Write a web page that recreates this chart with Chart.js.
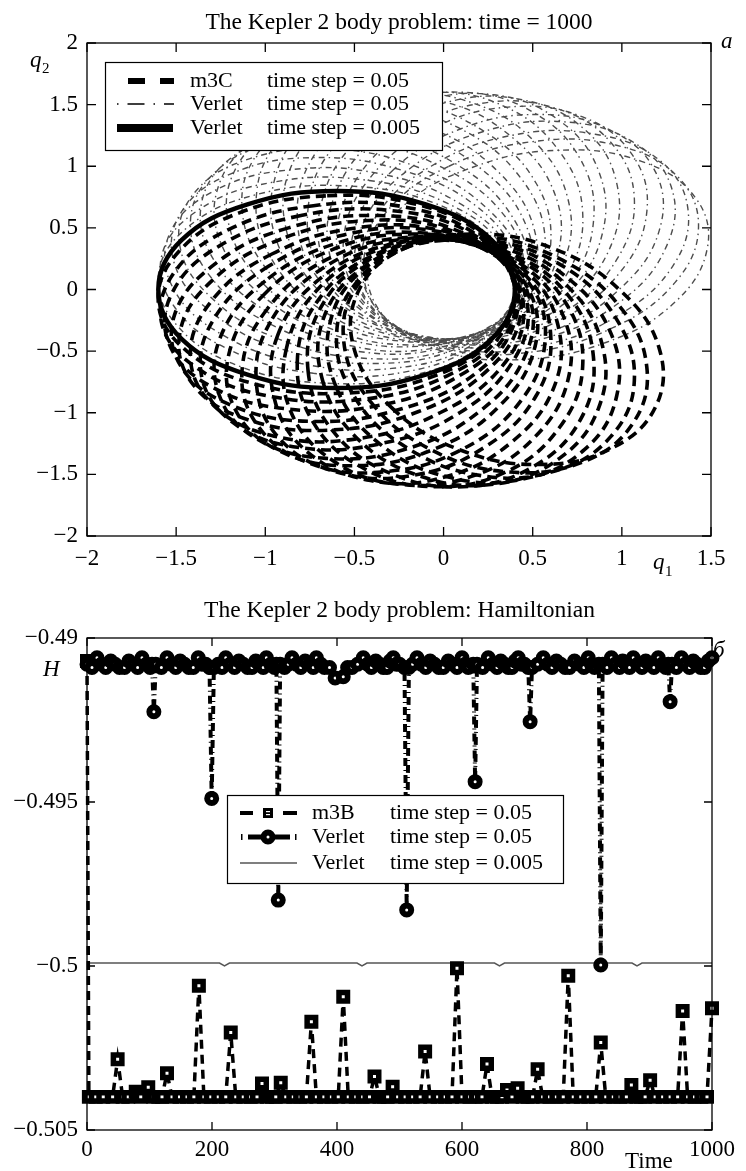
<!DOCTYPE html>
<html>
<head>
<meta charset="utf-8">
<script src="https://cdn.jsdelivr.net/npm/chart.js@4.4.1/dist/chart.umd.min.js"></script>
<style>
  body { margin: 0; background: #fff; }
  .wrap { position: relative; width: 746px; height: 1171px; }
  canvas { position: absolute; left: 0; }
</style>
</head>
<body>
<div class="wrap">
  <canvas id="orbitChart" width="746" height="580" style="top:0"></canvas>
  <canvas id="energyChart" width="746" height="591" style="top:580px"></canvas>
</div>
<script>
// ---------- panel a: trajectories in the (q1, q2) plane ----------
const orbitTitle = "The Kepler 2 body problem: time = 1000";
const q1Ticks = [-2, -1.5, -1, -0.5, 0, 0.5, 1, 1.5];
const q2Ticks = [-2, -1.5, -1, -0.5, 0, 0.5, 1, 1.5, 2];

// reference orbit (Verlet, dt = 0.005)
const exactOrbit = [[0.40,0],[0.27,0.40],[-0.10,0.69],[-0.60,0.80],[-1.10,0.69],[-1.47,0.40],
  [-1.60,0],[-1.47,-0.40],[-1.10,-0.69],[-0.60,-0.80],[-0.10,-0.69],[0.27,-0.40]];

// snapshots of the precessing m3C orbit (dt = 0.05)
const m3cOrbits = [
  [[0.40,0.03],[0.24,0.42],[-0.15,0.69],[-0.66,0.76],[-1.15,0.62],[-1.49,0.30],[-1.60,-0.11],[-1.44,-0.50],[-1.05,-0.77],[-0.54,-0.84],[-0.05,-0.70],[0.29,-0.38]],
  [[0.39,0.07],[0.19,0.44],[-0.22,0.67],[-0.73,0.68],[-1.20,0.49],[-1.51,0.14],[-1.58,-0.28],[-1.37,-0.65],[-0.96,-0.87],[-0.45,-0.89],[0.02,-0.70],[0.33,-0.35]],
  [[0.38,0.11],[0.15,0.46],[-0.29,0.64],[-0.80,0.60],[-1.25,0.36],[-1.52,-0.02],[-1.54,-0.44],[-1.30,-0.79],[-0.87,-0.97],[-0.36,-0.94],[0.10,-0.69],[0.37,-0.31]],
  [[0.37,0.16],[0.09,0.47],[-0.36,0.60],[-0.87,0.50],[-1.28,0.21],[-1.51,-0.21],[-1.47,-0.63],[-1.19,-0.94],[-0.74,-1.07],[-0.24,-0.97],[0.18,-0.68],[0.40,-0.26]],
  [[0.35,0.19],[0.04,0.48],[-0.42,0.56],[-0.91,0.41],[-1.30,0.07],[-1.48,-0.36],[-1.40,-0.78],[-1.09,-1.06],[-0.63,-1.14],[-0.14,-0.99],[0.25,-0.65],[0.43,-0.22]],
  [[0.32,0.24],[-0.02,0.48],[-0.49,0.50],[-0.96,0.29],[-1.30,-0.09],[-1.42,-0.54],[-1.29,-0.94],[-0.95,-1.19],[-0.48,-1.21],[-0.02,-1.00],[0.33,-0.62],[0.45,-0.17]],
  [[0.30,0.27],[-0.07,0.48],[-0.54,0.45],[-0.98,0.19],[-1.28,-0.22],[-1.36,-0.68],[-1.19,-1.07],[-0.82,-1.28],[-0.35,-1.25],[0.09,-1.00],[0.39,-0.58],[0.47,-0.12]],
  [[0.26,0.30],[-0.13,0.46],[-0.59,0.38],[-1.00,0.07],[-1.25,-0.38],[-1.26,-0.85],[-1.05,-1.21],[-0.66,-1.37],[-0.20,-1.29],[0.21,-0.98],[0.46,-0.53],[0.48,-0.06]],
  [[0.23,0.33],[-0.18,0.45],[-0.63,0.32],[-1.00,-0.03],[-1.20,-0.50],[-1.17,-0.97],[-0.92,-1.31],[-0.51,-1.43],[-0.06,-1.30],[0.31,-0.95],[0.51,-0.48],[0.48,-0.01]],
  [[0.19,0.35],[-0.23,0.42],[-0.66,0.24],[-0.99,-0.16],[-1.13,-0.65],[-1.04,-1.11],[-0.75,-1.41],[-0.34,-1.48],[0.10,-1.30],[0.43,-0.91],[0.57,-0.41],[0.48,0.05]],
  [[0.15,0.37],[-0.27,0.40],[-0.68,0.17],[-0.97,-0.26],[-1.05,-0.76],[-0.92,-1.21],[-0.60,-1.48],[-0.18,-1.51],[0.23,-1.28],[0.52,-0.86],[0.60,-0.35],[0.47,0.10]],
  [[0.10,0.39],[-0.32,0.36],[-0.70,0.08],[-0.93,-0.37],[-0.95,-0.88],[-0.77,-1.31],[-0.41,-1.55],[0.01,-1.52],[0.38,-1.24],[0.62,-0.79],[0.64,-0.28],[0.46,0.15]],
  [[0.06,0.40],[-0.35,0.33],[-0.70,0.01],[-0.88,-0.47],[-0.86,-0.98],[-0.62,-1.39],[-0.25,-1.58],[0.17,-1.51],[0.51,-1.20],[0.70,-0.72],[0.67,-0.21],[0.44,0.20]],
  [[0.01,0.40],[-0.39,0.28],[-0.70,-0.08],[-0.82,-0.57],[-0.73,-1.08],[-0.45,-1.45],[-0.06,-1.60],[0.35,-1.48],[0.65,-1.12],[0.78,-0.63],[0.69,-0.12],[0.41,0.25]],
  [[-0.03,0.40],[-0.42,0.24],[-0.69,-0.15],[-0.76,-0.66],[-0.62,-1.15],[-0.30,-1.49],[0.11,-1.60],[0.50,-1.44],[0.77,-1.05],[0.84,-0.54],[0.70,-0.05],[0.38,0.29]],
  [[-0.07,0.39],[-0.44,0.19],[-0.67,-0.22],[-0.68,-0.73],[-0.49,-1.20],[-0.14,-1.51],[0.28,-1.58],[0.65,-1.37],[0.87,-0.96],[0.89,-0.45],[0.70,0.02],[0.35,0.33]],
  [[-0.11,0.38],[-0.46,0.15],[-0.64,-0.29],[-0.60,-0.80],[-0.36,-1.25],[0.02,-1.52],[0.44,-1.54],[0.79,-1.30],[0.97,-0.87],[0.94,-0.36],[0.69,0.10],[0.31,0.37]],
  [[-0.16,0.37],[-0.47,0.09],[-0.60,-0.36],[-0.50,-0.87],[-0.21,-1.28],[0.21,-1.51],[0.63,-1.47],[0.94,-1.19],[1.07,-0.74],[0.97,-0.24],[0.68,0.18],[0.26,0.40]],
  [[-0.19,0.35],[-0.48,0.04],[-0.56,-0.42],[-0.41,-0.91],[-0.07,-1.30],[0.36,-1.48],[0.78,-1.40],[1.06,-1.09],[1.14,-0.63],[0.99,-0.14],[0.65,0.25],[0.22,0.43]],
  [[-0.24,0.32],[-0.48,-0.02],[-0.50,-0.49],[-0.29,-0.96],[0.09,-1.30],[0.54,-1.42],[0.94,-1.29],[1.19,-0.95],[1.21,-0.48],[1.00,-0.02],[0.62,0.33],[0.17,0.45]]
];

// snapshots of the Verlet orbit (dt = 0.05), precessing the other way
const verletOrbits = [
  [[0.40,-0.03],[0.24,-0.42],[-0.15,-0.69],[-0.66,-0.76],[-1.15,-0.62],[-1.49,-0.30],[-1.60,0.11],[-1.44,0.50],[-1.05,0.77],[-0.54,0.84],[-0.05,0.70],[0.29,0.38]],
  [[0.39,-0.07],[0.19,-0.44],[-0.22,-0.67],[-0.73,-0.68],[-1.20,-0.49],[-1.51,-0.14],[-1.58,0.28],[-1.37,0.65],[-0.96,0.87],[-0.45,0.89],[0.02,0.70],[0.33,0.35]],
  [[0.38,-0.11],[0.15,-0.46],[-0.29,-0.64],[-0.80,-0.60],[-1.25,-0.36],[-1.52,0.02],[-1.54,0.44],[-1.30,0.79],[-0.87,0.97],[-0.36,0.94],[0.10,0.69],[0.37,0.31]],
  [[0.37,-0.16],[0.09,-0.47],[-0.36,-0.60],[-0.87,-0.50],[-1.28,-0.21],[-1.51,0.21],[-1.47,0.63],[-1.19,0.94],[-0.74,1.07],[-0.24,0.97],[0.18,0.68],[0.40,0.26]],
  [[0.35,-0.19],[0.04,-0.48],[-0.42,-0.56],[-0.91,-0.41],[-1.30,-0.07],[-1.48,0.36],[-1.40,0.78],[-1.09,1.06],[-0.63,1.14],[-0.14,0.99],[0.25,0.65],[0.43,0.22]],
  [[0.32,-0.24],[-0.02,-0.48],[-0.49,-0.50],[-0.96,-0.29],[-1.30,0.09],[-1.42,0.54],[-1.29,0.94],[-0.95,1.19],[-0.48,1.21],[-0.02,1.00],[0.33,0.62],[0.45,0.17]],
  [[0.30,-0.27],[-0.07,-0.48],[-0.54,-0.45],[-0.98,-0.19],[-1.28,0.22],[-1.36,0.68],[-1.19,1.07],[-0.82,1.28],[-0.35,1.25],[0.09,1.00],[0.39,0.58],[0.47,0.12]],
  [[0.26,-0.30],[-0.13,-0.46],[-0.59,-0.38],[-1.00,-0.07],[-1.25,0.38],[-1.26,0.85],[-1.05,1.21],[-0.66,1.37],[-0.20,1.29],[0.21,0.98],[0.46,0.53],[0.48,0.06]],
  [[0.23,-0.33],[-0.18,-0.45],[-0.63,-0.32],[-1.00,0.03],[-1.20,0.50],[-1.17,0.97],[-0.92,1.31],[-0.51,1.43],[-0.06,1.30],[0.31,0.95],[0.51,0.48],[0.48,0.01]],
  [[0.19,-0.35],[-0.23,-0.42],[-0.66,-0.24],[-0.99,0.16],[-1.13,0.65],[-1.04,1.11],[-0.75,1.41],[-0.34,1.48],[0.10,1.30],[0.43,0.91],[0.57,0.41],[0.48,-0.05]],
  [[0.15,-0.37],[-0.27,-0.40],[-0.68,-0.17],[-0.97,0.26],[-1.05,0.76],[-0.92,1.21],[-0.60,1.48],[-0.18,1.51],[0.23,1.28],[0.52,0.86],[0.60,0.35],[0.47,-0.10]],
  [[0.10,-0.39],[-0.32,-0.36],[-0.70,-0.08],[-0.93,0.37],[-0.95,0.88],[-0.77,1.31],[-0.41,1.55],[0.01,1.52],[0.38,1.24],[0.62,0.79],[0.64,0.28],[0.46,-0.15]],
  [[0.06,-0.40],[-0.35,-0.33],[-0.70,-0.01],[-0.88,0.47],[-0.86,0.98],[-0.62,1.39],[-0.25,1.58],[0.17,1.51],[0.51,1.20],[0.70,0.72],[0.67,0.21],[0.44,-0.20]],
  [[0.01,-0.40],[-0.39,-0.28],[-0.70,0.08],[-0.82,0.57],[-0.73,1.08],[-0.45,1.45],[-0.06,1.60],[0.35,1.48],[0.65,1.12],[0.78,0.63],[0.69,0.12],[0.41,-0.25]],
  [[-0.03,-0.40],[-0.42,-0.24],[-0.69,0.15],[-0.76,0.66],[-0.62,1.15],[-0.30,1.49],[0.11,1.60],[0.50,1.44],[0.77,1.05],[0.84,0.54],[0.70,0.05],[0.38,-0.29]],
  [[-0.07,-0.39],[-0.44,-0.19],[-0.67,0.22],[-0.68,0.73],[-0.49,1.20],[-0.14,1.51],[0.28,1.58],[0.65,1.37],[0.87,0.96],[0.89,0.45],[0.70,-0.02],[0.35,-0.33]],
  [[-0.11,-0.38],[-0.46,-0.15],[-0.64,0.29],[-0.60,0.80],[-0.36,1.25],[0.02,1.52],[0.44,1.54],[0.79,1.30],[0.97,0.87],[0.94,0.36],[0.69,-0.10],[0.31,-0.37]],
  [[-0.16,-0.37],[-0.47,-0.09],[-0.60,0.36],[-0.50,0.87],[-0.21,1.28],[0.21,1.51],[0.63,1.47],[0.94,1.19],[1.07,0.74],[0.97,0.24],[0.68,-0.18],[0.26,-0.40]],
  [[-0.19,-0.35],[-0.48,-0.04],[-0.56,0.42],[-0.41,0.91],[-0.07,1.30],[0.36,1.48],[0.78,1.40],[1.06,1.09],[1.14,0.63],[0.99,0.14],[0.65,-0.25],[0.22,-0.43]],
  [[-0.24,-0.32],[-0.48,0.02],[-0.50,0.49],[-0.29,0.96],[0.09,1.30],[0.54,1.42],[0.94,1.29],[1.19,0.95],[1.21,0.48],[1.00,0.02],[0.62,-0.33],[0.17,-0.45]],
  [[-0.27,-0.30],[-0.48,0.07],[-0.45,0.54],[-0.19,0.98],[0.22,1.28],[0.68,1.36],[1.07,1.19],[1.28,0.82],[1.25,0.35],[1.00,-0.09],[0.58,-0.39],[0.12,-0.47]],
  [[-0.30,-0.26],[-0.46,0.13],[-0.38,0.59],[-0.07,1.00],[0.38,1.25],[0.85,1.26],[1.21,1.05],[1.37,0.66],[1.29,0.20],[0.98,-0.21],[0.53,-0.46],[0.06,-0.48]],
  [[-0.33,-0.23],[-0.45,0.18],[-0.32,0.63],[0.03,1.00],[0.50,1.20],[0.97,1.17],[1.31,0.92],[1.43,0.51],[1.30,0.06],[0.95,-0.31],[0.48,-0.51],[0.01,-0.48]],
  [[-0.35,-0.19],[-0.42,0.23],[-0.24,0.66],[0.16,0.99],[0.65,1.13],[1.11,1.04],[1.41,0.75],[1.48,0.34],[1.30,-0.10],[0.91,-0.43],[0.41,-0.57],[-0.05,-0.48]]
];

const orbitLegendNames = ["m3C", "Verlet", "Verlet"];
const orbitLegendSteps = ["time step = 0.05", "time step = 0.05", "time step = 0.005"];

// ---------- panel б: Hamiltonian against time ----------
const energyTitle = "The Kepler 2 body problem: Hamiltonian";
const timeTicks = [0, 200, 400, 600, 800, 1000];
const hTicks = [-0.505, -0.5, -0.495, -0.49];

const lo = -0.50399; // m3B floor level
const m3bTime = [
  0, 3, 14, 26, 41, 49, 57, 66, 78, 86,
  98, 106, 114, 120, 128, 136, 148, 160, 171, 179,
  187, 198, 210, 222, 230, 238, 250, 262, 272, 280,
  288, 296, 302, 310, 318, 330, 341, 351, 359, 367,
  379, 391, 402, 410, 418, 430, 441, 452, 460, 468,
  475, 481, 489, 497, 509, 521, 533, 541, 549, 561,
  573, 584, 592, 600, 612, 622, 632, 640, 648, 656,
  664, 672, 680, 689, 697, 705, 713, 721, 729, 740,
  751, 762, 770, 778, 790, 802, 814, 822, 830, 842,
  853, 863, 871, 879, 886, 893, 901, 909, 921, 933,
  945, 953, 961, 972, 983, 992, 1000
];
const m3bH = [
  -0.4907, lo, lo, lo, lo, -0.50284, lo, lo, -0.50383, lo,
  -0.5037, lo, lo, lo, -0.50327, lo, lo, lo, lo, -0.5006,
  lo, lo, lo, lo, -0.50203, lo, lo, lo, lo, -0.50358,
  lo, lo, lo, -0.50356, lo, lo, lo, lo, -0.5017, lo,
  lo, lo, lo, -0.50094, lo, lo, lo, lo, -0.50337, lo,
  lo, lo, -0.50368, lo, lo, lo, lo, -0.50261, lo, lo,
  lo, lo, -0.50007, lo, lo, lo, lo, -0.50299, lo, lo,
  lo, -0.50378, lo, -0.50373, lo, lo, lo, -0.50315, lo, lo,
  lo, lo, -0.5003, lo, lo, lo, lo, -0.50233, lo, lo,
  lo, lo, -0.50363, lo, lo, lo, -0.50348, lo, lo, lo,
  lo, -0.50137, lo, lo, lo, lo, -0.50129
];

const verletTime = [
  0, 8, 16, 23, 30, 38, 45, 52, 60, 67,
  74, 81, 88, 95, 101, 104, 107, 110, 119, 128,
  135, 142, 149, 156, 163, 170, 178, 184, 190, 196,
  199.5, 203, 210, 216, 222, 229, 236, 243, 250, 257,
  264, 270, 276, 282, 287, 294, 300, 303, 306, 309,
  316, 322, 328, 335, 342, 349, 356, 362, 367, 374,
  380, 388, 397, 410, 417, 424, 433, 442, 449, 455,
  462, 468, 474, 480, 485, 490, 495, 500, 508, 511.5,
  515, 521, 528, 535, 542, 549, 556, 563, 570, 578,
  585, 592, 600, 605, 610, 618, 621, 624, 633, 642,
  649, 656, 662, 668, 674, 680, 685, 690, 695, 700,
  706, 709, 712, 721, 730, 737, 744, 751, 758, 765,
  772, 780, 788, 795, 802, 807, 812, 819, 822, 825,
  832, 839, 845, 852, 857, 862, 868, 874, 881, 888,
  894, 900, 907, 914, 920, 926, 930, 933, 936, 943,
  951, 957, 964, 970, 976, 982, 988, 994, 1000
];
const verletH = [
  -0.4908, -0.4909, -0.4906, -0.4908, -0.4909, -0.4907, -0.4908, -0.4909, -0.4909, -0.4907,
  -0.4908, -0.4909, -0.4906, -0.4908, -0.4909, -0.4908, -0.49225, -0.4908, -0.4909, -0.4906,
  -0.4908, -0.4909, -0.4907, -0.4908, -0.4909, -0.4909, -0.4906, -0.4908, -0.4908, -0.4909,
  -0.49489, -0.4909, -0.4908, -0.4909, -0.4906, -0.4908, -0.4909, -0.4907, -0.4908, -0.4909,
  -0.4909, -0.4907, -0.4908, -0.4909, -0.4906, -0.4908, -0.4909, -0.4908, -0.49799, -0.4908,
  -0.4909, -0.4908, -0.4906, -0.4908, -0.4909, -0.4907, -0.4908, -0.4909, -0.4906, -0.4908,
  -0.4909, -0.4909, -0.49122, -0.49118, -0.4909, -0.4909, -0.4908, -0.4906, -0.4908, -0.4909,
  -0.4907, -0.4908, -0.4909, -0.4909, -0.4907, -0.4906, -0.4908, -0.4908, -0.4909, -0.49829,
  -0.4909, -0.4908, -0.4906, -0.4908, -0.4909, -0.4907, -0.4908, -0.4909, -0.4909, -0.4907,
  -0.4908, -0.4909, -0.4906, -0.4908, -0.4909, -0.4908, -0.49438, -0.4908, -0.4909, -0.4906,
  -0.4908, -0.4909, -0.4907, -0.4908, -0.4909, -0.4909, -0.4907, -0.4906, -0.4908, -0.4908,
  -0.4909, -0.49255, -0.4909, -0.4908, -0.4906, -0.4908, -0.4909, -0.4907, -0.4908, -0.4909,
  -0.4909, -0.4907, -0.4908, -0.4909, -0.4906, -0.4908, -0.4909, -0.4908, -0.49997, -0.4908,
  -0.4909, -0.4906, -0.4908, -0.4909, -0.4907, -0.4908, -0.4909, -0.4906, -0.4908, -0.4909,
  -0.4907, -0.4908, -0.4909, -0.4906, -0.4908, -0.4909, -0.4908, -0.49194, -0.4908, -0.4909,
  -0.4906, -0.4908, -0.4909, -0.4907, -0.4908, -0.4909, -0.4909, -0.4907, -0.4906
];

const fineTime = [0, 212, 220, 228, 432, 440, 448, 652, 660, 668, 872, 880, 888, 1000];
const fineH = [-0.49991, -0.49991, -0.5, -0.49991, -0.49991, -0.5, -0.49991,
  -0.49991, -0.5, -0.49991, -0.49991, -0.5, -0.49991, -0.49991];

const energyLegendNames = ["m3B", "Verlet", "Verlet"];
const energyLegendSteps = ["time step = 0.05", "time step = 0.05", "time step = 0.005"];

// ---------- helpers ----------
const serif = "'Liberation Serif', 'Times New Roman', serif";
const hidden = "rgba(0,0,0,0)";

function fmt(v) {
  const r = Math.round(v * 1e6) / 1e6;
  return r < 0 ? "\u2212" + Math.abs(r) : String(r);
}

// closed loop: one extra point on each side, the two outer segments stay invisible
// so the spline is smooth all the way round
function closeLoop(pts) {
  return [...pts.slice(2), ...pts.slice(0, 5)].map(([x, y]) => ({ x, y }));
}
const loopSegment = {
  borderColor: c => (c.p0DataIndex === 0 || c.p1DataIndex === 14) ? hidden : undefined
};

function pairs(xs, ys) {
  return xs.map((x, i) => ({ x, y: ys[i] }));
}

function seg(ctx, x1, y1, x2, y2) {
  ctx.beginPath();
  ctx.moveTo(x1, y1);
  ctx.lineTo(x2, y2);
  ctx.stroke();
}

// frame round the plot area with inward tick marks on all four sides, plus the title
const boxFrame = {
  id: "boxFrame",
  afterDraw(chart, args, opts) {
    const { ctx, chartArea: a, scales } = chart;
    const len = opts.tick || 8;
    ctx.save();
    ctx.strokeStyle = "#000";
    ctx.lineWidth = 1.3;
    ctx.strokeRect(a.left, a.top, a.right - a.left, a.bottom - a.top);
    ctx.beginPath();
    scales.x.ticks.forEach(t => {
      const p = scales.x.getPixelForValue(t.value);
      ctx.moveTo(p, a.bottom); ctx.lineTo(p, a.bottom - len);
      ctx.moveTo(p, a.top); ctx.lineTo(p, a.top + len);
    });
    scales.y.ticks.forEach(t => {
      const p = scales.y.getPixelForValue(t.value);
      ctx.moveTo(a.left, p); ctx.lineTo(a.left + len, p);
      ctx.moveTo(a.right, p); ctx.lineTo(a.right - len, p);
    });
    ctx.stroke();
    ctx.fillStyle = "#000";
    ctx.font = "23.5px " + serif;
    ctx.textAlign = "center";
    ctx.textBaseline = "middle";
    ctx.fillText(opts.title, (a.left + a.right) / 2, opts.titleY);
    ctx.restore();
  }
};

function axisOpts(min, max, tickList, pad, fit) {
  return {
    type: "linear", min, max,
    afterBuildTicks: s => { s.ticks = tickList.map(v => ({ value: v })); },
    afterFit: fit,
    grid: { display: false, drawTicks: false },
    border: { display: false },
    ticks: { color: "#000", padding: pad, font: { family: serif, size: 23 }, callback: fmt, maxRotation: 0, autoSkip: false }
  };
}

// ---------- panel a ----------
const orbitDecor = {
  id: "orbitDecor",
  afterDraw(chart) {
    const ctx = chart.ctx;
    ctx.save();
    ctx.fillStyle = "#000";
    ctx.strokeStyle = "#000";
    ctx.textBaseline = "alphabetic";
    ctx.font = "italic 23px " + serif;
    ctx.fillText("q", 30, 67);
    ctx.fillText("q", 653, 569);
    ctx.fillText("a", 721, 48);
    ctx.font = "15px " + serif;
    ctx.fillText("2", 42, 73);
    ctx.fillText("1", 665, 576);

    // legend box
    ctx.fillStyle = "#fff";
    ctx.fillRect(105, 62, 337, 88);
    ctx.lineWidth = 1.2;
    ctx.strokeRect(105.5, 62.5, 337, 88);
    const rows = [81, 104, 128];
    ctx.lineCap = "butt";
    ctx.lineWidth = 6; ctx.setLineDash([17, 15]);
    seg(ctx, 128, rows[0], 174, rows[0]);
    ctx.lineWidth = 1.3; ctx.setLineDash([1.5, 9, 17, 9]);
    seg(ctx, 117, rows[1], 174, rows[1]);
    ctx.lineWidth = 8; ctx.setLineDash([]);
    seg(ctx, 117, rows[2], 173, rows[2]);
    ctx.fillStyle = "#000";
    ctx.font = "22px " + serif;
    ctx.textBaseline = "middle";
    rows.forEach((y, i) => {
      ctx.fillText(orbitLegendNames[i], 190, y);
      ctx.fillText(orbitLegendSteps[i], 267, y);
    });
    ctx.restore();
  }
};

const orbitSets = [];
verletOrbits.forEach(o => orbitSets.push({
  data: closeLoop(o), showLine: true, pointRadius: 0, tension: 0.4, segment: loopSegment,
  borderColor: "#4d4d4d", borderWidth: 1.4, borderDash: [6, 4, 1.5, 4], order: 3
}));
m3cOrbits.forEach(o => orbitSets.push({
  data: closeLoop(o), showLine: true, pointRadius: 0, tension: 0.4, segment: loopSegment,
  borderColor: "#000", borderWidth: 3.6, borderDash: [10, 6], order: 2
}));
orbitSets.push({
  data: closeLoop(exactOrbit), showLine: true, pointRadius: 0, tension: 0.4, segment: loopSegment,
  borderColor: "#000", borderWidth: 4.5, order: 1
});

new Chart(document.getElementById("orbitChart"), {
  type: "scatter",
  data: { datasets: orbitSets },
  options: {
    responsive: false, animation: false, devicePixelRatio: 1,
    layout: { padding: { left: 0, right: 35, top: 43, bottom: 0 } },
    plugins: {
      legend: { display: false },
      tooltip: { enabled: false },
      title: { display: false },
      boxFrame: { tick: 9, title: orbitTitle, titleY: 23 }
    },
    scales: {
      x: axisOpts(-2, 1.5, q1Ticks, 9, s => { s.height = 44; }),
      y: axisOpts(-2, 2, q2Ticks, 9, s => { s.width = 87; })
    }
  },
  plugins: [boxFrame, orbitDecor]
});

// ---------- panel б ----------
const energyDecor = {
  id: "energyDecor",
  afterDraw(chart) {
    const ctx = chart.ctx;
    ctx.save();
    ctx.fillStyle = "#000";
    ctx.strokeStyle = "#000";
    ctx.textBaseline = "alphabetic";
    ctx.font = "italic 23px " + serif;
    ctx.fillText("H", 43, 96);
    ctx.fillText("\u0431", 713, 77);
    ctx.font = "23px " + serif;
    ctx.fillText("Time", 625, 588);

    // legend box
    ctx.fillStyle = "#fff";
    ctx.fillRect(227, 215, 336, 88);
    ctx.lineWidth = 1.2;
    ctx.strokeRect(227.5, 215.5, 336, 88);
    const rows = [233, 257, 283];
    ctx.lineCap = "butt";
    // m3B sample: dash, square marker, dash
    ctx.lineWidth = 4;
    seg(ctx, 240, rows[0], 253, rows[0]);
    seg(ctx, 283, rows[0], 297, rows[0]);
    ctx.fillStyle = "#000";
    ctx.fillRect(263, rows[0] - 5, 10, 10);
    ctx.fillStyle = "#fff";
    ctx.fillRect(266, rows[0] - 2, 4, 1.2);
    ctx.fillRect(266, rows[0] + 1, 4, 1.2);
    // Verlet dt = 0.05 sample: dot, bar, ring marker, bar, dot
    ctx.fillStyle = "#000";
    ctx.fillRect(241, rows[1] - 3, 1.5, 6);
    ctx.fillRect(295, rows[1] - 3, 1.5, 6);
    ctx.lineWidth = 5;
    seg(ctx, 248, rows[1], 290, rows[1]);
    ctx.beginPath();
    ctx.arc(268, rows[1], 4.5, 0, Math.PI * 2);
    ctx.fillStyle = "#fff";
    ctx.fill();
    ctx.lineWidth = 6;
    ctx.stroke();
    // Verlet dt = 0.005 sample
    ctx.lineWidth = 1.2;
    seg(ctx, 240, rows[2], 297, rows[2]);
    ctx.fillStyle = "#000";
    ctx.font = "22px " + serif;
    ctx.textBaseline = "middle";
    rows.forEach((y, i) => {
      ctx.fillText(energyLegendNames[i], 312, y);
      ctx.fillText(energyLegendSteps[i], 390, y);
    });
    ctx.restore();
  }
};

new Chart(document.getElementById("energyChart"), {
  type: "scatter",
  data: {
    datasets: [
      {
        data: pairs(verletTime, verletH), showLine: true, order: 1, clip: false,
        borderColor: "#000", borderWidth: 4, borderDash: [8, 4, 1, 4],
        pointStyle: "circle", pointRadius: 4.5, pointBorderWidth: 6,
        pointBackgroundColor: "#fff", pointBorderColor: "#000"
      },
      {
        data: pairs(m3bTime, m3bH), showLine: true, order: 2, clip: false,
        borderColor: "#000", borderWidth: 3.5, borderDash: [9, 6],
        pointStyle: "rect", pointRadius: 6, pointBorderWidth: 5.5,
        pointBackgroundColor: "#fff", pointBorderColor: "#000"
      },
      {
        data: pairs(fineTime, fineH), showLine: true, order: 3, clip: false,
        borderColor: "#555", borderWidth: 1.5, pointRadius: 0
      }
    ]
  },
  options: {
    responsive: false, animation: false, devicePixelRatio: 1,
    layout: { padding: { left: 0, right: 34, top: 58, bottom: 0 } },
    plugins: {
      legend: { display: false },
      tooltip: { enabled: false },
      title: { display: false },
      boxFrame: { tick: 8, title: energyTitle, titleY: 31 }
    },
    scales: {
      x: axisOpts(0, 1000, timeTicks, 6, s => { s.height = 41; }),
      y: axisOpts(-0.505, -0.49, hTicks, 9, s => { s.width = 87; })
    }
  },
  plugins: [boxFrame, energyDecor]
});
</script>
</body>
</html>
